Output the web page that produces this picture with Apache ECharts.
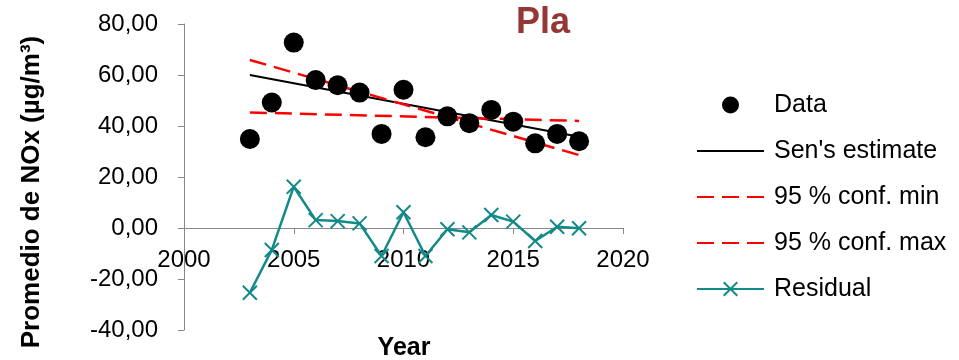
<!DOCTYPE html>
<html>
<head>
<meta charset="utf-8">
<script src="https://cdn.jsdelivr.net/npm/echarts@6/dist/echarts.min.js"></script>
<style>html,body{margin:0;padding:0;background:#fff}#c{width:959px;height:360px}</style>
</head>
<body>
<div id="c"></div>
<script>
// ---- data ----
const years = [2003,2004,2005,2006,2007,2008,2009,2010,2011,2012,2013,2014,2015,2016,2017,2018];
const noxData = [34.9,49.2,72.7,58.0,56.0,53.1,36.9,54.2,35.6,43.8,41.1,46.3,41.7,33.2,36.9,34.0];
const residuals = [-25.4,-8.6,16.2,3.1,2.7,1.8,-11.0,6.2,-11.0,-0.5,-1.7,5.1,2.5,-5.1,0.5,-0.1];
const trendYears = [2003, 2018];
const senEstimate = [60.0, 35.8];
const confMin = [65.9, 28.6];
const confMax = [45.3, 42.0];
const xTicks = [2000, 2005, 2010, 2015, 2020];
const yTicks = [-40, -20, 0, 20, 40, 60, 80];
const seriesNames = ['Data', "Sen's estimate", '95 % conf. min', '95 % conf. max', 'Residual'];

const FONT = '"Liberation Sans", Arial, sans-serif';
const teal = '#138a88';
const red = '#ff0000';
const pair = (xs, ys) => xs.map((x, i) => [x, ys[i]]);
const hideSym = { itemStyle: { opacity: 0 } };

const W = 959, H = 360;
const gridL = 184, gridR = 336, gridT = 24, gridB = 30;
const yMin = yTicks[0], yMax = yTicks[yTicks.length - 1];
// place the x axis at y = 0 (the category axis crosses there)
const plotH = H - gridT - gridB;
const zeroOffset = -plotH * (0 - yMin) / (yMax - yMin);

const chart = echarts.init(document.getElementById('c'));
chart.setOption({
  animation: false,
  textStyle: { fontFamily: FONT },
  title: {
    text: 'Pla', left: 516, top: 5, padding: 0,
    textStyle: { color: '#953735', fontSize: 36, fontWeight: 'bold', fontFamily: FONT }
  },
  grid: { left: gridL, right: gridR, top: gridT, bottom: gridB, containLabel: false, outerBoundsMode: 'none' },
  xAxis: {
    type: 'value', min: xTicks[0], max: xTicks[xTicks.length - 1], interval: 5,
    offset: zeroOffset,
    axisLine: { onZero: false, lineStyle: { color: '#888888', width: 1 } },
    axisTick: { show: true, length: 6, lineStyle: { color: '#888888' } },
    axisLabel: { fontSize: 24, color: '#000', margin: 20, fontFamily: FONT,
      formatter: v => String(v) },
    splitLine: { show: false }
  },
  yAxis: {
    type: 'value', min: yMin, max: yMax, interval: 20,
    axisLine: { show: true, onZero: false, lineStyle: { color: '#888888', width: 1 } },
    axisTick: { show: true, length: 6, lineStyle: { color: '#888888' } },
    axisLabel: { fontSize: 24, color: '#000', margin: 26, fontFamily: FONT,
      formatter: v => v.toFixed(2).replace('.', ',') },
    splitLine: { show: false }
  },
  legend: {
    orient: 'vertical', left: 696, top: 92, padding: 0,
    itemWidth: 67, itemHeight: 17, itemGap: 20,
    data: [
      { name: seriesNames[0] },
      Object.assign({ name: seriesNames[1] }, hideSym),
      Object.assign({ name: seriesNames[2] }, hideSym),
      Object.assign({ name: seriesNames[3] }, hideSym),
      { name: seriesNames[4] }
    ],
    textStyle: { fontSize: 25, color: '#000', lineHeight: 26, padding: [0, 0, 0, 5], fontFamily: FONT }
  },
  graphic: [
    { type: 'text', x: 32, y: 192, rotation: Math.PI / 2,
      style: { text: 'Promedio de NOx (µg/m³)', font: 'bold 26px ' + FONT, fill: '#000', align: 'center', verticalAlign: 'middle' } },
    { type: 'text', x: 404, y: 348,
      style: { text: 'Year', font: 'bold 25px ' + FONT, fill: '#000', align: 'center', verticalAlign: 'middle' } }
  ],
  series: [
    { name: seriesNames[0], type: 'scatter', data: pair(years, noxData), symbol: 'circle', symbolSize: 20,
      itemStyle: { color: '#000', opacity: 1 }, z: 5 },
    { name: seriesNames[1], type: 'line', data: pair(trendYears, senEstimate), symbol: 'none',
      lineStyle: { color: '#000', width: 2 }, itemStyle: { color: '#000' } },
    { name: seriesNames[2], type: 'line', data: pair(trendYears, confMin), symbol: 'none',
      lineStyle: { color: red, width: 2.5, type: [17, 8] }, itemStyle: { color: red } },
    { name: seriesNames[3], type: 'line', data: pair(trendYears, confMax), symbol: 'none',
      lineStyle: { color: red, width: 2.5, type: [17, 8] }, itemStyle: { color: red } },
    { name: seriesNames[4], type: 'line', data: pair(years, residuals),
      symbol: 'path://M0,0L10,10M0,10L10,0', symbolSize: 14, showAllSymbol: true,
      lineStyle: { color: teal, width: 2.5 },
      itemStyle: { color: 'rgba(0,0,0,0)', borderColor: teal, borderWidth: 2 } }
  ]
});
</script>
</body>
</html>
